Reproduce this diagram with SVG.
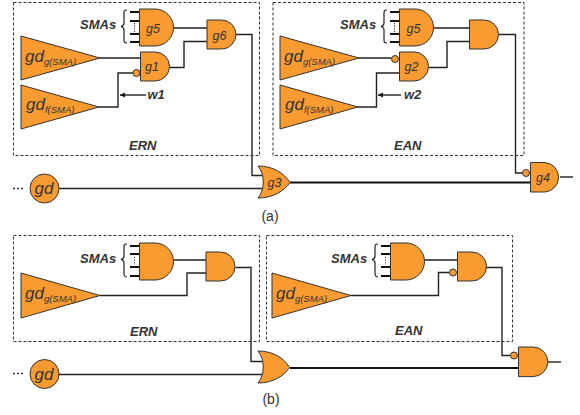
<svg xmlns="http://www.w3.org/2000/svg" width="580" height="415" viewBox="0 0 580 415">
<style>
text{font-family:"Liberation Sans",Arial,sans-serif;fill:#333}
.g{fill:#f99b30;stroke:#333;stroke-width:1}
.w{fill:none;stroke:#222;stroke-width:1.4}
.t{fill:none;stroke:#111;stroke-width:2}
.d{fill:none;stroke:#333;stroke-width:1;stroke-dasharray:3 2}
.e{fill:none;stroke:#333;stroke-width:1.4;stroke-dasharray:2 2}
.b{font-weight:bold;font-style:italic;font-size:13px}
.n{font-style:italic;font-size:12.500px;text-anchor:middle}
.gd{font-style:italic;font-size:17px}
.s{font-size:9.500px}
.c{font-size:14px;text-anchor:middle}
.br{fill:none;stroke:#222;stroke-width:1.2}
.dot{fill:none;stroke:#333;stroke-width:1;stroke-dasharray:1.2 1.4}
</style>
<defs>
<marker id="arr" markerUnits="userSpaceOnUse" markerWidth="6" markerHeight="6" refX="5" refY="3" orient="auto"><path d="M0 0.500L5 3L0 5.500Z" fill="#111"/></marker>
</defs>
<g id="frames">
<rect class="d" x="13.500" y="2.500" width="246" height="153"/>
<rect class="d" x="273" y="2.500" width="251" height="153"/>
<rect class="d" x="13.500" y="235.500" width="246" height="106"/>
<rect class="d" x="266.500" y="235.500" width="246" height="106"/>
</g>
<g id="connectors">
<path class="w" d="M100 58H140.500M99 107H118V73H133M169 67.500H184V41.500H207M173.500 28H207M236 34.500H252V175.500H264M59 188.500H263"/>
<path class="w" d="M146 95H120" marker-end="url(#arr)"/>
<path class="t" d="M130 12H139M130 21H139M130 34H139M130 42H139"/>
<path class="w" d="M359 58H391.500M358 107H376.500V73H399.500M428.500 67.500H447V41.500H469.500M433.500 28H469.500M498.500 34.500H515.500V173H522.500"/>
<path class="w" d="M401 95H378" marker-end="url(#arr)"/>
<path class="t" d="M390 12H399M390 21H399M390 34H399M390 42H399"/>
<path class="t" d="M290 182.500H530"/>
<path class="w" d="M560 177H573"/>
<path class="w" d="M100 295.500H187V273H206M173.500 260H206M235.500 267.500H251V361.500H264M59 374.500H263"/>
<path class="t" d="M130 246H139M130 254H139M130 267H139M130 276H139"/>
<path class="w" d="M351 295.500H438.500V272.500H449.500M425 260H457.500M486.500 267.500H502V355.500H510.500"/>
<path class="t" d="M381 246H390.500M381 254H390.500M381 267H390.500M381 276H390.500"/>
<path class="t" d="M290 368H518.500"/>
<path class="w" d="M547.500 362H561"/>
<path class="dot" d="M134.500 23V32M394.500 23V32M134.500 257V265M385.500 257V265"/>
<path class="e" d="M13 188.500H24M13 373.500H24"/>
</g>
<g id="brackets">
<path class="br" d="M127 10C124 10 124 11 124 14V23C124 25 123 26 121 26.500C123 27 124 28 124 30V39C124 42 124 43 127 43"/>
<path class="br" d="M387 10C384 10 384 11 384 14V23C384 25 383 26 381 26.500C383 27 384 28 384 30V39C384 42 384 43 387 43"/>
<path class="br" d="M127 244C124 244 124 245 124 248V256C124 258 123 259 121 259.500C123 260 124 261 124 263V272C124 275 124 277 127 277"/>
<path class="br" d="M378 244C375 244 375 245 375 248V256C375 258 374 259 372 259.500C374 260 375 261 375 263V272C375 275 375 277 378 277"/>
</g>
<g id="a-ern-tri-g"><path class="g" d="M21 36L100 58L21 80Z"/><text x="25" y="62" class="gd">gd<tspan class="s" dy="3">g(SMA)</tspan></text></g>
<g id="a-ern-tri-f"><path class="g" d="M21 85L99 107L21 129Z"/><text x="26" y="110" class="gd">gd<tspan class="s" dy="3">f(SMA)</tspan></text></g>
<g id="a-ern-g5"><path class="g" d="M139.500 9H155A18.500 18.500 0 0 1 155 46H139.500Z"/><text x="153" y="33" class="n">g5</text></g>
<g id="a-ern-g1"><path class="g" d="M140.500 52H155A14.500 14.500 0 0 1 155 81H140.500Z"/><circle class="g" cx="136.500" cy="73" r="3.500"/><text x="152" y="71" class="n">g1</text></g>
<g id="a-ern-g6"><path class="g" d="M207 20H221.500A14.500 14.500 0 0 1 221.500 49H207Z"/><text x="219.500" y="40" class="n">g6</text></g>
<g id="a-ean-tri-g"><path class="g" d="M280 36L359 58L280 80Z"/><text x="284" y="62" class="gd">gd<tspan class="s" dy="3">g(SMA)</tspan></text></g>
<g id="a-ean-tri-f"><path class="g" d="M280 85L358 107L280 129Z"/><text x="285" y="110" class="gd">gd<tspan class="s" dy="3">f(SMA)</tspan></text></g>
<g id="a-ean-g5"><path class="g" d="M399.500 9H415A18.500 18.500 0 0 1 415 46H399.500Z"/><text x="413.500" y="33" class="n">g5</text></g>
<g id="a-ean-g2"><path class="g" d="M399.500 52H414A14.500 14.500 0 0 1 414 81H399.500Z"/><circle class="g" cx="395" cy="59" r="3.500"/><text x="411.500" y="71" class="n">g2</text></g>
<g id="a-ean-g7"><path class="g" d="M469.500 20H484A14.500 14.500 0 0 1 484 49H469.500Z"/></g>
<g id="a-g3"><path class="g" d="M258 166C273 166 284 173 290 182.500C284 191 273 198 258 198C265 190 265 174 258 166Z"/><text x="274.500" y="187" class="n">g3</text></g>
<g id="a-g4"><path class="g" d="M530.500 162.500H545A14.800 14.800 0 0 1 545 192H530.500Z"/><circle class="g" cx="526" cy="173" r="3.500"/><text x="543" y="182" class="n">g4</text></g>
<g id="a-gd"><circle class="g" cx="44.500" cy="188.500" r="14.500"/><text x="44" y="194" class="gd" text-anchor="middle">gd</text></g>
<g id="b-ern-tri"><path class="g" d="M21 273L100 295.500L21 318Z"/><text x="25" y="299" class="gd">gd<tspan class="s" dy="3">g(SMA)</tspan></text></g>
<g id="b-ern-g5"><path class="g" d="M139.500 243H155A18.500 18.500 0 0 1 155 280H139.500Z"/></g>
<g id="b-ern-g6"><path class="g" d="M206 252H220.500A14.500 14.500 0 0 1 220.500 281H206Z"/></g>
<g id="b-ean-tri"><path class="g" d="M272 273L351 295.500L272 318Z"/><text x="276" y="299" class="gd">gd<tspan class="s" dy="3">g(SMA)</tspan></text></g>
<g id="b-ean-g5"><path class="g" d="M390.500 243H406A18.500 18.500 0 0 1 406 280H390.500Z"/></g>
<g id="b-ean-g6"><path class="g" d="M457.500 252H472A14.500 14.500 0 0 1 472 281H457.500Z"/><circle class="g" cx="453" cy="272.500" r="3.500"/></g>
<g id="b-or"><path class="g" d="M258 351C273 351 284 358 289.500 367.500C284 376 273 383 258 383C265 375 265 359 258 351Z"/></g>
<g id="b-and"><path class="g" d="M518.500 347H533A14.800 14.800 0 0 1 533 376.600H518.500Z"/><circle class="g" cx="514" cy="355.500" r="3.500"/></g>
<g id="b-gd"><circle class="g" cx="44.500" cy="374" r="14.500"/><text x="44" y="380" class="gd" text-anchor="middle">gd</text></g>
<g id="labels">
<text class="b" x="80" y="29">SMAs</text>
<text class="b" x="340" y="29">SMAs</text>
<text class="b" x="80" y="263">SMAs</text>
<text class="b" x="331" y="263">SMAs</text>
<text class="b" x="147.500" y="99">w1</text>
<text class="b" x="404" y="99">w2</text>
<text class="b" x="129" y="150">ERN</text>
<text class="b" x="394" y="150">EAN</text>
<text class="b" x="130" y="336">ERN</text>
<text class="b" x="395" y="335">EAN</text>
<text class="c" x="270" y="221">(a)</text>
<text class="c" x="271" y="404">(b)</text>
</g>
</svg>
